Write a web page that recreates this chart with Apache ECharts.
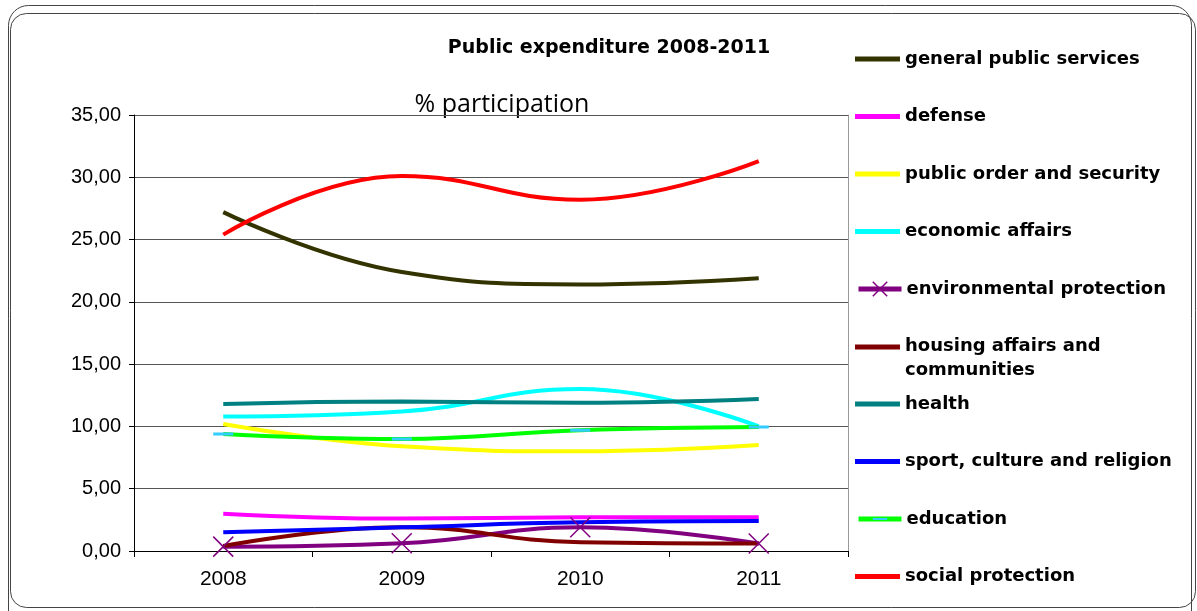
<!DOCTYPE html>
<html>
<head>
<meta charset="utf-8">
<script src="https://cdn.jsdelivr.net/npm/echarts@6/dist/echarts.min.js"></script>
<style>
html,body{margin:0;padding:0;background:#fff;}
#c{width:1197px;height:611px;}
</style>
</head>
<body>
<div id="c"></div>
<script>
// ---- data ----
const years = ['2008', '2009', '2010', '2011'];
const yMin = 0, yMax = 35, yStep = 5;

const seriesNames = [
  'general public services',
  'defense',
  'public order and security',
  'economic affairs',
  'environmental protection',
  'housing affairs and communities',
  'health',
  'sport, culture and religion',
  'education',
  'social protection'
];

const generalPublicServices = [27.2, 22.4, 21.4, 21.9];
const defense = [3.0, 2.6, 2.7, 2.7];
const publicOrderSecurity = [10.2, 8.4, 8.0, 8.5];
const economicAffairs = [10.8, 11.2, 13.0, 10.0];
const environmentalProtection = [0.35, 0.62, 1.9, 0.6];
const housingCommunities = [0.4, 1.9, 0.7, 0.6];
const health = [11.8, 12.0, 11.9, 12.2];
const sportCultureReligion = [1.5, 1.9, 2.3, 2.4];
const education = [9.4, 9.0, 9.7, 9.95];
const socialProtection = [25.4, 30.1, 28.2, 31.3];

const seriesValues = [
  generalPublicServices, defense, publicOrderSecurity, economicAffairs,
  environmentalProtection, housingCommunities, health, sportCultureReligion,
  education, socialProtection
];

const lineColors = ['#333300', '#FF00FF', '#FFFF00', '#00FFFF', '#800080',
                    '#800000', '#008080', '#0000FF', '#00FF00', '#FF0000'];

// ---- chart ----
const X_MARK = 'path://M0,0L20,20M20,0L0,20';
const DASH_MARK = 'path://M0,0L0.01,0L0.01,0.01ZM0,8.5H20V11.5H0ZM19.99,19.99L20,19.99L20,20Z';
const HOUSING_ICON = 'path://M0,0L0.01,0L0.01,0.01ZM0,10H45V15H0ZM44.99,47.99L45,47.99L45,48Z';

const series = seriesNames.map((name, i) => {
  const s = {
    name: name,
    type: 'line',
    data: seriesValues[i],
    smooth: 0.45,
    color: lineColors[i],
    lineStyle: { width: 4, color: lineColors[i] },
    itemStyle: { color: lineColors[i] },
    symbol: 'none',
    emphasis: { disabled: true },
    animation: false
  };
  if (i === 4) {
    s.symbol = X_MARK;
    s.symbolSize = 20;
    s.showSymbol = true;
    s.itemStyle = { color: '#800080', borderColor: '#800080', borderWidth: 1.5 };
  }
  if (i === 8) {
    s.symbol = DASH_MARK;
    s.symbolSize = 20;
    s.showSymbol = true;
    s.itemStyle = { color: '#33CCFF', borderWidth: 0 };
  }
  return s;
});

const legendText = { fontFamily: 'DejaVu Sans', fontWeight: 'bold', fontSize: 18, color: '#000', lineHeight: 22 };

const legends = seriesNames.map((name, i) => {
  const center = 59 + i * 57.5;
  const lg = {
    data: [name],
    orient: 'vertical',
    left: 855,
    top: center - 11,
    padding: 0,
    itemGap: 0,
    itemWidth: 45,
    itemHeight: 5,
    selectedMode: false,
    icon: 'rect',
    itemStyle: { borderWidth: 0 },
    textStyle: Object.assign({}, legendText)
  };
  if (i === 4 || i === 8) {
    delete lg.icon;
    lg.itemWidth = 43;
    lg.left = 856;
    lg.itemHeight = 18;
    lg.lineStyle = { width: 5, color: lineColors[i] };
    lg.itemStyle = i === 4
      ? { color: '#800080', borderColor: '#800080', borderWidth: 1.5 }
      : { color: '#33CCFF', borderWidth: 0 };
  }
  if (i === 5) {
    lg.icon = HOUSING_ICON;
    lg.itemHeight = 48;
    lg.top = center - 12;
    lg.textStyle.lineHeight = 24;
    lg.formatter = () => 'housing affairs and\ncommunities';
  }
  return lg;
});

const chart = echarts.init(document.getElementById('c'), null, { renderer: 'canvas' });
chart.setOption({
  backgroundColor: '#fff',
  animation: false,
  grid: { left: 134, right: 349, top: 115, bottom: 60 },
  xAxis: {
    type: 'category',
    data: years,
    boundaryGap: true,
    axisLine: { show: true, lineStyle: { color: '#000', width: 1 } },
    axisTick: { show: true, length: 6, lineStyle: { color: '#000' } },
    axisLabel: { fontFamily: 'Liberation Sans', fontSize: 21, color: '#000', margin: 18 },
    splitLine: { show: false }
  },
  yAxis: [{
    type: 'value',
    min: yMin, max: yMax, interval: yStep,
    axisLine: { show: true, lineStyle: { color: '#000', width: 1 } },
    axisTick: { show: true, length: 5, lineStyle: { color: '#000' } },
    axisLabel: {
      fontFamily: 'Liberation Sans', fontSize: 20, color: '#000', margin: 13,
      formatter: v => v.toFixed(2).replace('.', ',')
    },
    splitLine: { show: true, lineStyle: { color: '#555555', width: 1 } }
  }, {
    type: 'value',
    position: 'right',
    min: yMin, max: yMax, interval: yStep,
    axisLine: { show: true, lineStyle: { color: '#999', width: 1 } },
    axisTick: { show: false },
    axisLabel: { show: false },
    splitLine: { show: false }
  }],
  legend: legends,
  series: series,
  graphic: [
    { type: 'rect', silent: true, z: -1,
      shape: { x: 8.5, y: 5.5, width: 1183, height: 640, r: 20 },
      style: { fill: null, stroke: '#444', lineWidth: 1 } },
    { type: 'rect', silent: true, z: -1,
      shape: { x: 10.5, y: 13.5, width: 1185, height: 594, r: 16 },
      style: { fill: null, stroke: '#444', lineWidth: 1 } },
    { type: 'text', x: 609, y: 48, silent: true,
      style: { text: 'Public expenditure 2008-2011', font: 'bold 19px "DejaVu Sans"', fill: '#000',
               textAlign: 'center', textVerticalAlign: 'middle' } },
    { type: 'text', x: 502, y: 105, silent: true,
      style: { text: '% participation', font: '25px "Open Sans"', fill: '#000',
               textAlign: 'center', textVerticalAlign: 'middle' } }
  ]
});
</script>
</body>
</html>
